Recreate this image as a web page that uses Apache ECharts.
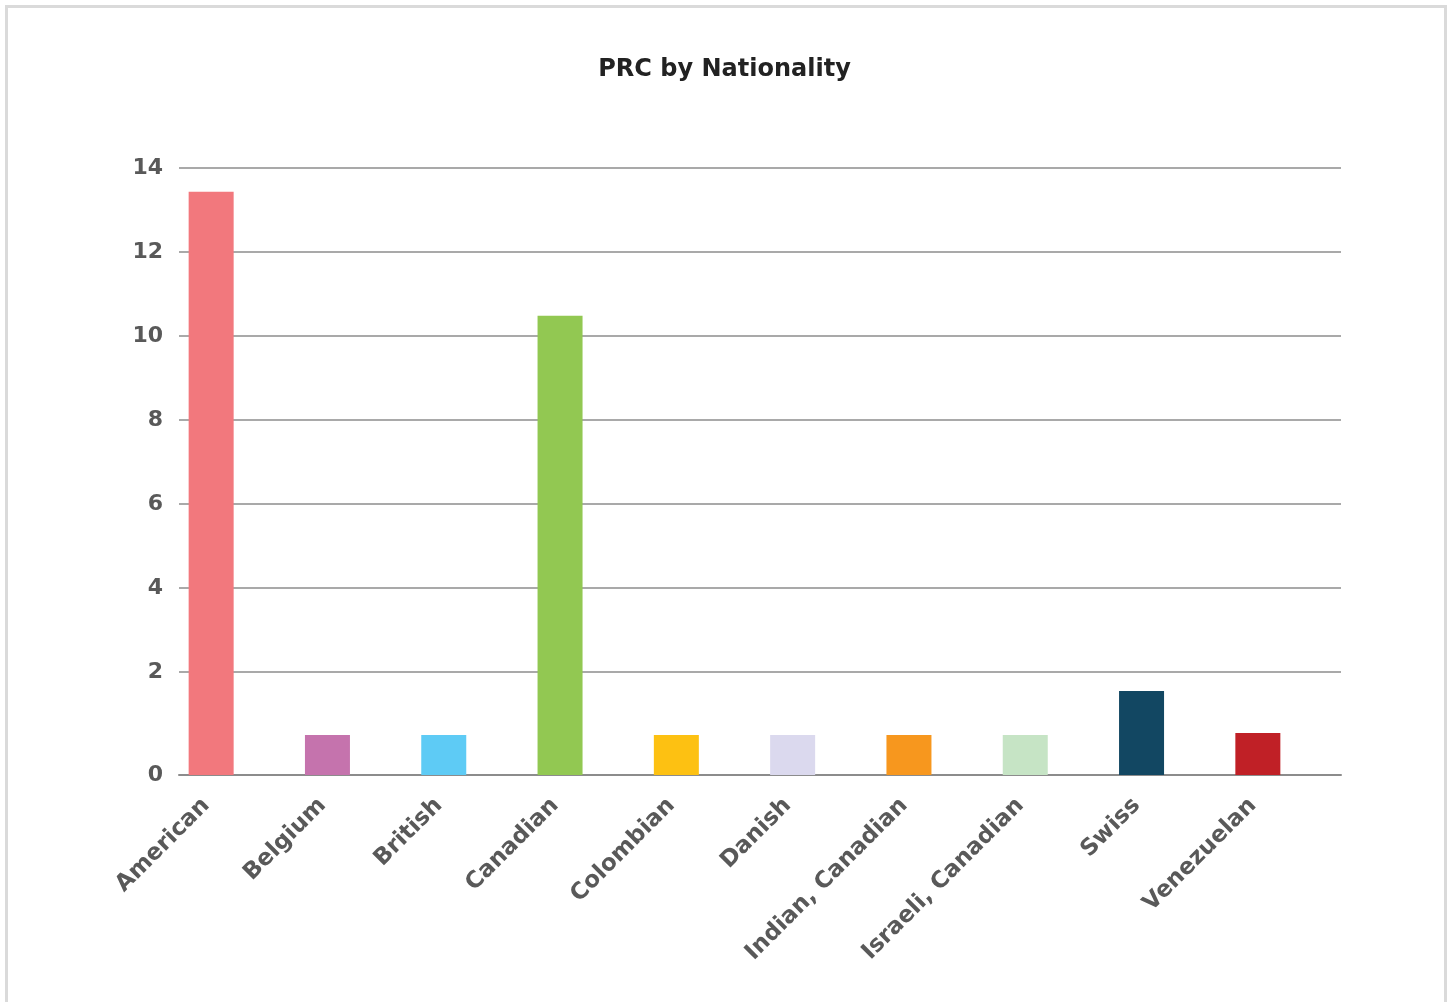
<!DOCTYPE html>
<html>
<head>
<meta charset="utf-8">
<script src="https://cdn.jsdelivr.net/npm/echarts@6/dist/echarts.min.js"></script>
<style>
body { margin: 0; background: #fff; }
#frame { position: absolute; left: 5px; top: 5px; width: 1436px; height: 1100px; border: 3px solid #dadada; }
#main { position: absolute; left: 0; top: 0; width: 1449px; height: 1002px; }
</style>
</head>
<body>
<div id="frame"></div>
<div id="main"></div>
<script>
// values
var nationalities = ['American', 'Belgium', 'British', 'Canadian', 'Colombian', 'Danish',
    'Indian, Canadian', 'Israeli, Canadian', 'Swiss', 'Venezuelan'];
var prcCounts = [13.45, 0.92, 0.92, 10.59, 0.92, 0.92, 0.92, 0.92, 1.94, 0.97];
var barColors = ['#f2787d', '#c573ad', '#5ecbf5', '#92c852', '#fdc112', '#dbd9ee',
    '#f7971e', '#c6e4c5', '#124762', '#c02026'];
var yMax = 14;
var yStep = 2;

var font = 'DejaVu Sans';
var labelColor = '#595959';
var lineColor = '#8c8c8c';

var myChart = echarts.init(document.getElementById('main'));

var option = {
    backgroundColor: 'transparent',
    animation: false,
    title: {
        text: 'PRC by Nationality',
        left: 'center',
        top: 53,
        textStyle: { fontFamily: font, fontWeight: 'bold', fontSize: 24, color: '#222' }
    },
    grid: [
        // gridlines 2..14
        { left: 179, right: 108, top: 168, bottom: 246 },
        // bars
        { left: 153, right: 133, top: 168, bottom: 227 },
        // baseline + "0"
        { left: 179, right: 108, top: 168, bottom: 227 }
    ],
    xAxis: [
        { gridIndex: 0, type: 'value', show: false, min: 0, max: 1 },
        {
            gridIndex: 1,
            type: 'category',
            data: nationalities,
            axisLine: { show: false },
            axisTick: { show: false },
            axisLabel: {
                interval: 0,
                rotate: 45,
                margin: 22,
                padding: [0, 7, 0, 0],
                fontFamily: font,
                fontWeight: 'bold',
                fontSize: 23,
                color: labelColor
            }
        },
        {
            gridIndex: 2,
            type: 'value',
            min: 0,
            max: 1,
            axisLine: { show: true, lineStyle: { color: lineColor, width: 2 } },
            axisTick: { show: false },
            axisLabel: { show: false },
            splitLine: { show: false }
        }
    ],
    yAxis: [
        {
            gridIndex: 0,
            type: 'value',
            min: 0,
            max: yMax,
            interval: yStep,
            axisLine: { show: false },
            axisTick: { show: false },
            splitLine: { show: true, showMinLine: false, lineStyle: { color: lineColor, width: 1.5 } },
            axisLabel: {
                margin: 16,
                fontFamily: font,
                fontWeight: 'bold',
                fontSize: 22,
                color: labelColor,
                formatter: function (v) { return v === 0 ? '' : v; }
            }
        },
        { gridIndex: 1, type: 'value', min: 0, max: yMax, show: false },
        {
            gridIndex: 2,
            type: 'value',
            min: 0,
            max: yMax,
            interval: yMax,
            axisLine: { show: false },
            axisTick: { show: false },
            splitLine: { show: false },
            axisLabel: {
                margin: 16,
                fontFamily: font,
                fontWeight: 'bold',
                fontSize: 22,
                color: labelColor,
                formatter: function (v) { return v === 0 ? '0' : ''; }
            }
        }
    ],
    series: [
        {
            type: 'bar',
            xAxisIndex: 1,
            yAxisIndex: 1,
            barWidth: 45,
            data: prcCounts.map(function (v, i) {
                return { value: v, itemStyle: { color: barColors[i] } };
            })
        }
    ]
};

myChart.setOption(option);
</script>
</body>
</html>
